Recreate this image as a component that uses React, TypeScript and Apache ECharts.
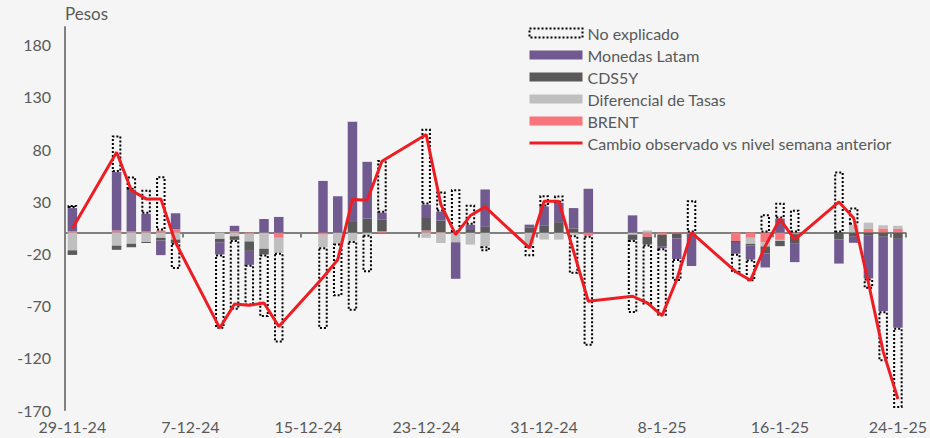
import React, { useEffect, useRef } from "react";
import * as echarts from "echarts";

const N = null;

const dates = [
  "29-11-24", "30-11-24", "1-12-24", "2-12-24", "3-12-24", "4-12-24", "5-12-24", "6-12-24", "7-12-24", "8-12-24",
  "9-12-24", "10-12-24", "11-12-24", "12-12-24", "13-12-24", "14-12-24", "15-12-24",
  "16-12-24", "17-12-24", "18-12-24", "19-12-24", "20-12-24", "21-12-24", "22-12-24",
  "23-12-24", "24-12-24", "25-12-24", "26-12-24", "27-12-24", "28-12-24", "29-12-24",
  "30-12-24", "31-12-24", "1-1-25", "2-1-25", "3-1-25", "4-1-25", "5-1-25",
  "6-1-25", "7-1-25", "8-1-25", "9-1-25", "10-1-25", "11-1-25", "12-1-25",
  "13-1-25", "14-1-25", "15-1-25", "16-1-25", "17-1-25", "18-1-25", "19-1-25",
  "20-1-25", "21-1-25", "22-1-25", "23-1-25", "24-1-25",
];

const brent = [
  1.5, N, N, 2, 1, 1, 2, 3.2, N, N,
  0, 1.5, -1, 0, -5, N, N,
  -2, 0, 0, 0, 1.5, N, N,
  2, 0.5, 0, 0, 0, N, N,
  0, 0, 0, 0, -3, N, N,
  0, -4, -2, -1, -1, N, N,
  -8, -5, -9.5, -7, -1.5, N, N,
  0, 0, 3.5, 4, 3.5,
];

const diferencial = [
  -17, N, N, -12.5, -10.8, -9, -5, -6.7, N, N,
  -6, -3.5, -7.5, -15.5, -14.4, N, N,
  -12, -10.5, -8, -2, 0, N, N,
  -5, -10, -9.3, -11.5, -13, N, N,
  -11.5, -6.7, -6.7, -2.5, 0, N, N,
  -2, 2, 0, 0, 0, N, N,
  0, -5.8, -3.8, -1, 0, N, N,
  0, 7.4, 6, 3, 3,
];

const cds5y = [
  -4.4, N, N, -4, -3.2, -1, -2.6, -3.2, N, N,
  -3.2, -3.5, -9, -5.5, 0, N, N,
  0, 0, 11, 13.5, 11.2, N, N,
  12, 11, 0, 2.5, 5.5, N, N,
  5, 7, 10, 4, 0, N, N,
  -5, -7.4, -11, -4.5, 0, N, N,
  -1, -1.6, -6.7, -5, -8.6, N, N,
  -6.7, -4, -2.4, -4, -6,
];

const monedas = [
  22, N, N, 56, 40, 17, -14, 15.3, N, N,
  -11.8, 5, -13.4, 13, 15, N, N,
  49.5, 34.8, 95.3, 54.3, 6.4, N, N,
  12.8, 8.6, -35, 5, 35.8, N, N,
  2.6, 18, 18.6, 19.5, 42, N, N,
  16.5, 0, -2, -19.8, -31, N, N,
  -11.2, -13.4, -13.4, 13.4, -18.2, N, N,
  -23, -5.8, -41.5, -71.3, -85.3,
];

const noExplicado = [
  3, N, N, 35, 12.8, 23, 52, -25, N, N,
  -71.2, -67, -39, -60, -86, N, N,
  -78.3, -50.5, -67, -36, 50.4, N, N,
  72.6, 19.2, 41.5, 19.2, -4.8, N, N,
  -11.2, 10.8, 7, -37, -105.4, N, N,
  -70, -57.5, -64.6, -21, 31, N, N,
  -18.2, -20.8, 17.6, 15.3, 22, N, N,
  58.5, 16.6, -10, -48, -76.7,
];

const cambio = [
  4, N, N, 77, 40.5, 32.3, 32.3, -9.5, N, N,
  -91.5, -68.4, -69.7, -67.4, -90, N, N,
  -43, -26, 31.6, 31, 68.4, N, N,
  94, 26.8, -2, 16.3, 24.6, N, N,
  -14.7, 30, 30, -18, -65.8, N, N,
  -61, -67.4, -79.6, -45, 0, N, N,
  -37.5, -45.7, -13, 13, -6.7, N, N,
  29.4, 14, -48, -113.8, -159.5,
];

const FONT = "Lato";
const TXT = "#595959";
const AXIS = "#808080";
const RED = "#ee1d23";

const dottedStyle = {
  color: "rgba(0,0,0,0)",
  borderColor: "#000000",
  borderWidth: 2,
  borderType: "dotted",
};

export default function App() {
  const ref = useRef<HTMLDivElement>(null);
  useEffect(() => {
    document.body.style.margin = "0";
    document.body.style.background = "#f5f5f5";
    const chart = echarts.init(ref.current!, null, { renderer: "svg" });
    const barBase = {
      type: "bar",
      stack: "total",
      barWidth: 9.5,
      xAxisIndex: 0,
      yAxisIndex: 0,
    };
    chart.setOption({
      animation: false,
      backgroundColor: "#f5f5f5",
      textStyle: { fontFamily: FONT },
      grid: { left: 65, right: 19, top: 27, bottom: 28 },
      legend: {
        orient: "vertical",
        left: 523,
        top: 20,
        itemWidth: 53,
        itemHeight: 9,
        itemGap: 6,
        textStyle: { fontFamily: FONT, fontSize: 16, color: TXT, lineHeight: 16 },
        data: [
          { name: "No explicado", icon: "rect", itemStyle: dottedStyle },
          { name: "Monedas Latam", icon: "rect" },
          { name: "CDS5Y", icon: "rect" },
          { name: "Diferencial de Tasas", icon: "rect" },
          { name: "BRENT", icon: "rect" },
          {
            name: "Cambio observado vs nivel semana anterior",
            itemStyle: { opacity: 0 },
            lineStyle: { color: RED, width: 3 },
          },
        ],
      },
      xAxis: [
        {
          type: "category",
          data: dates,
          boundaryGap: true,
          position: "bottom",
          axisLine: { show: true, onZero: true, lineStyle: { color: AXIS, width: 2 } },
          axisTick: { show: true, interval: 7, length: 5, lineStyle: { color: AXIS, width: 2 } },
          axisLabel: { show: false },
          splitLine: { show: false },
        },
        {
          type: "category",
          data: dates,
          boundaryGap: true,
          position: "bottom",
          offset: 0,
          axisLine: { show: false, onZero: false },
          axisTick: { show: false },
          axisLabel: {
            show: true,
            interval: 7,
            margin: 8,
            fontFamily: FONT,
            fontSize: 16,
            color: TXT,
          },
          splitLine: { show: false },
        },
      ],
      yAxis: {
        type: "value",
        min: -170,
        max: 197,
        interval: 50,
        name: "Pesos",
        nameLocation: "end",
        nameGap: 5,
        nameTextStyle: { fontFamily: FONT, fontSize: 17, color: TXT, align: "left" },
        axisLine: { show: true, lineStyle: { color: AXIS, width: 2 } },
        axisTick: { show: false },
        splitLine: { show: false },
        axisLabel: {
          showMaxLabel: false,
          margin: 14,
          fontFamily: FONT,
          fontSize: 16,
          color: TXT,
        },
      },
      series: [
        { ...barBase, name: "BRENT", data: brent, itemStyle: { color: "#f8757b" } },
        { ...barBase, name: "Diferencial de Tasas", data: diferencial, itemStyle: { color: "#bfbfbf" } },
        { ...barBase, name: "CDS5Y", data: cds5y, itemStyle: { color: "#595959" } },
        { ...barBase, name: "Monedas Latam", data: monedas, itemStyle: { color: "#715a90" } },
        { ...barBase, name: "No explicado", data: noExplicado, itemStyle: dottedStyle },
        {
          type: "line",
          name: "Cambio observado vs nivel semana anterior",
          data: cambio,
          xAxisIndex: 0,
          yAxisIndex: 0,
          connectNulls: true,
          symbol: "none",
          showSymbol: false,
          z: 10,
          lineStyle: { color: RED, width: 3 },
          itemStyle: { color: RED },
        },
      ],
    });
    return () => chart.dispose();
  }, []);
  return <div ref={ref} style={{ width: 930, height: 438 }} />;
}
